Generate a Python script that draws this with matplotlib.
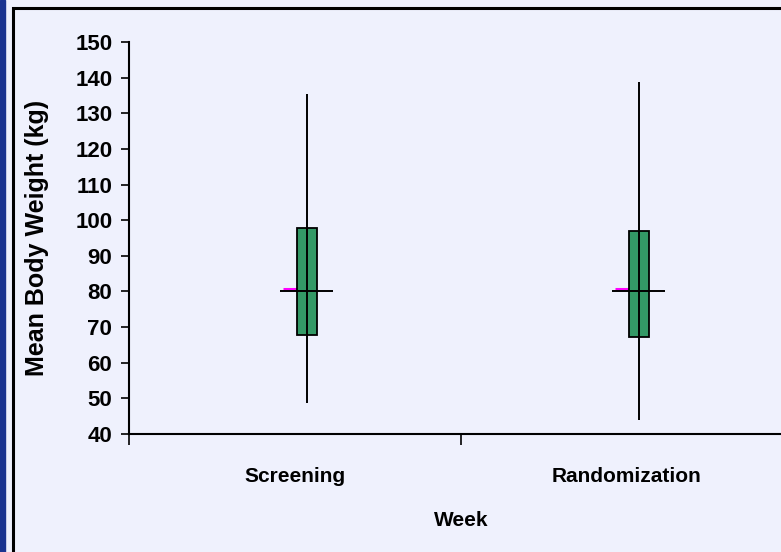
import matplotlib.pyplot as plt
import matplotlib.patches as mpatches
import numpy as np

categories = ['Screening', 'Randomization']
high = [135.5, 138.8]
low = [48.8, 43.8]
upper = [97.7, 97.0]
lower = [67.7, 67.1]
mean = [80.0, 80.0]
first = [80.6, 80.6]
yticks = [40, 50, 60, 70, 80, 90, 100, 110, 120, 130, 140, 150]

bg = '#EFF1FD'
green = '#339966'

plt.rcParams['font.family'] = ['Liberation Sans', 'DejaVu Sans']
plt.rcParams['font.weight'] = 'bold'
narrow = ['Liberation Sans Narrow', 'Liberation Sans']

fig = plt.figure(figsize=(7.81, 5.52), dpi=100, facecolor=bg)

# blue strip on the left and the black chart frame
fig.patches.append(mpatches.Rectangle((0, 0), 5 / 781, 1, transform=fig.transFigure,
                                      color='#1A3390', zorder=0))
fig.patches.append(mpatches.Rectangle((13 / 781, -0.1), 1, 0.1 + (552 - 7.5) / 552,
                                      transform=fig.transFigure, fill=False,
                                      edgecolor='black', lw=2.2, zorder=1))

ax = fig.add_axes([129 / 781, 1 - 434 / 552, 664 / 781, 392 / 552])
ax.set_facecolor(bg)

x = np.arange(len(categories)) + 0.535

ax.hlines(first, x - 0.07, x - 0.03, color='#FF00FF', lw=2.2, zorder=2)
ax.bar(x, np.array(upper) - np.array(lower), bottom=lower, width=0.06,
       color=green, edgecolor='black', lw=1.3, zorder=3)
ax.vlines(x, low, high, color='black', lw=1.4, zorder=4)
ax.hlines(mean, x - 0.08, x + 0.08, color='black', lw=1.4, zorder=5)

ax.set_xlim(0, 2)
ax.set_ylim(40, 150)
ax.set_yticks(yticks)
ax.set_yticklabels([str(v) for v in yticks], family=narrow, fontsize=16, fontweight='bold')
ax.tick_params(axis='y', direction='out', length=6, width=1.2, pad=6)

ax.set_xticks([0, 1, 2])
ax.set_xticklabels([])
ax.tick_params(axis='x', which='major', direction='out', length=8, width=1.2)
ax.set_xticks(np.arange(len(categories)) + 0.5, minor=True)
ax.set_xticklabels(categories, minor=True, fontsize=15)
ax.tick_params(axis='x', which='minor', length=0, pad=24)

for s in ['top', 'right']:
    ax.spines[s].set_visible(False)
for s in ['left', 'bottom']:
    ax.spines[s].set_linewidth(1.5)

ax.set_xlabel('Week', fontsize=15, fontweight='bold', labelpad=18)
ax.set_ylabel('Mean Body Weight (kg)', fontsize=18, fontweight='bold', labelpad=19)

fig.savefig('out.png', dpi=100, facecolor=bg)
